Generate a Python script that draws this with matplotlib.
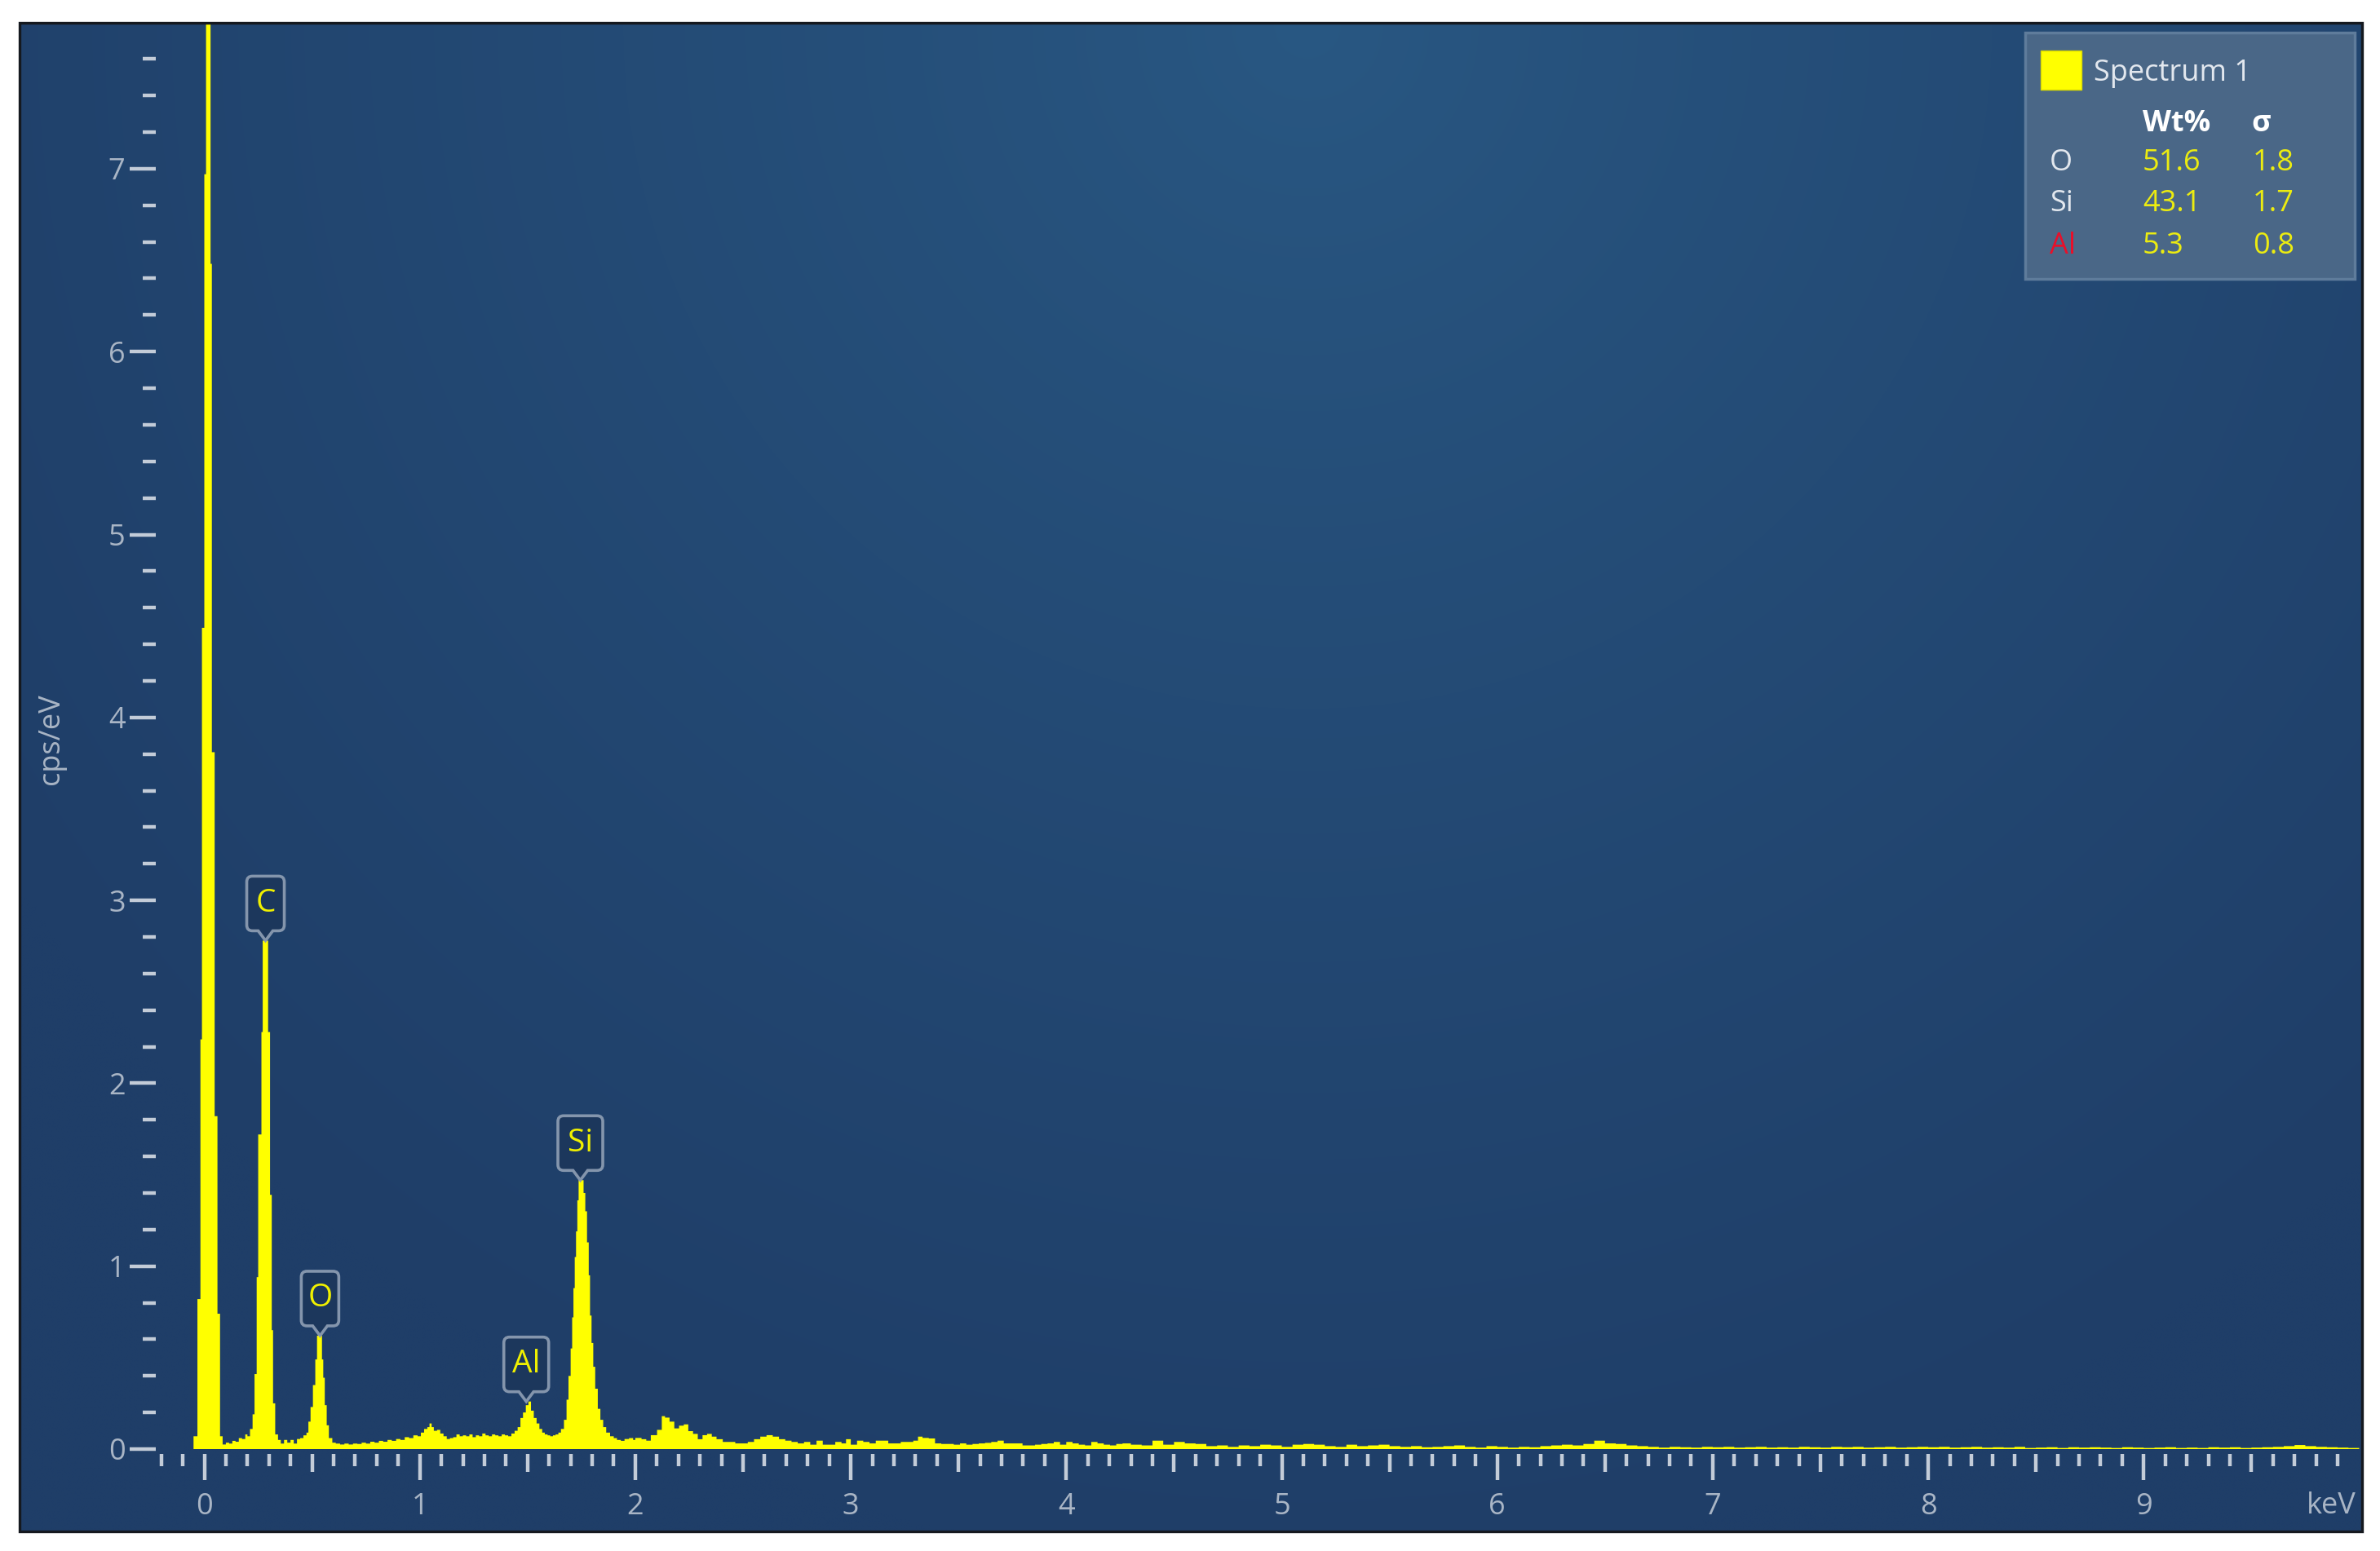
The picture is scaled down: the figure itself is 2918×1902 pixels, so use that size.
import numpy as np
import matplotlib
matplotlib.use("Agg")
import matplotlib.pyplot as plt
import matplotlib.transforms as mtransforms
from matplotlib.colors import to_rgb
from matplotlib.patches import Rectangle, PathPatch
from matplotlib.path import Path
from matplotlib.ticker import FixedLocator

# ---- EDS spectrum (bin start in keV, cps/eV) ----
# noise peak, C and O
kev_low = [-0.050, -0.032, -0.018, -0.011, 0.000, 0.008, 0.029, 0.035, 0.048, 0.061, 0.073,
           0.085, 0.100, 0.115, 0.130, 0.145, 0.160, 0.175, 0.190, 0.200,
           0.212, 0.224, 0.233, 0.243, 0.250, 0.265, 0.271, 0.296, 0.305, 0.313, 0.319, 0.329, 0.342,
           0.355, 0.370, 0.385, 0.400, 0.415, 0.430, 0.445, 0.460,
           0.474, 0.483, 0.493, 0.504, 0.515, 0.523, 0.546, 0.552, 0.559, 0.568, 0.578, 0.594]
cps_low = [0.07, 0.82, 2.24, 4.49, 6.97, 9.50, 6.48, 3.81, 1.82, 0.74, 0.07,
           0.025, 0.035, 0.030, 0.045, 0.040, 0.060, 0.055, 0.080, 0.070,
           0.11, 0.19, 0.41, 0.94, 1.72, 2.28, 2.78, 2.28, 1.39, 0.65, 0.25, 0.08, 0.05,
           0.030, 0.050, 0.035, 0.050, 0.030, 0.055, 0.060, 0.075,
           0.09, 0.15, 0.23, 0.35, 0.49, 0.62, 0.49, 0.39, 0.24, 0.13, 0.06, 0.035]

# background, Al and Si
kev_alsi = [0.610, 0.630, 0.650, 0.670, 0.690, 0.710, 0.730, 0.750, 0.770, 0.790,
            0.810, 0.830, 0.850, 0.870, 0.890, 0.910, 0.930, 0.950, 0.970, 0.990,
            1.005, 1.020, 1.035, 1.045, 1.055, 1.065, 1.080, 1.095, 1.110, 1.125,
            1.140, 1.155, 1.170, 1.185, 1.200, 1.215, 1.230, 1.245, 1.260, 1.275,
            1.290, 1.305, 1.320, 1.335, 1.350, 1.365, 1.380, 1.395, 1.410, 1.425,
            1.440, 1.454, 1.467, 1.479, 1.492, 1.504, 1.516, 1.529, 1.542, 1.555,
            1.568, 1.580, 1.593, 1.605, 1.618, 1.630, 1.643,
            1.655, 1.669, 1.681, 1.690, 1.700, 1.707, 1.713, 1.719, 1.725, 1.731, 1.737,
            1.760, 1.768, 1.776, 1.784, 1.790, 1.797, 1.805, 1.814, 1.826, 1.838,
            1.851, 1.865, 1.883, 1.900, 1.915, 1.933, 1.950, 1.971, 1.990]
cps_alsi = [0.030, 0.025, 0.030, 0.025, 0.030, 0.028, 0.035, 0.030, 0.040, 0.035,
            0.045, 0.040, 0.050, 0.045, 0.055, 0.050, 0.065, 0.060, 0.075, 0.070,
            0.090, 0.110, 0.120, 0.140, 0.120, 0.100, 0.105, 0.085, 0.070, 0.055,
            0.060, 0.065, 0.080, 0.070, 0.075, 0.070, 0.080, 0.065, 0.075, 0.070,
            0.085, 0.075, 0.070, 0.080, 0.075, 0.070, 0.080, 0.075, 0.070, 0.085,
            0.100, 0.120, 0.170, 0.200, 0.240, 0.260, 0.210, 0.170, 0.140, 0.110,
            0.090, 0.080, 0.075, 0.070, 0.075, 0.080, 0.090,
            0.110, 0.160, 0.270, 0.400, 0.550, 0.720, 0.880, 1.050, 1.190, 1.360, 1.470,
            1.400, 1.300, 1.130, 0.950, 0.730, 0.580, 0.450, 0.330, 0.220, 0.160,
            0.120, 0.090, 0.070, 0.060, 0.050, 0.045, 0.055, 0.060, 0.050]

# 2 - 4.3 keV background
kev_mid = [2.000, 2.029, 2.051, 2.072, 2.101, 2.123, 2.138, 2.159, 2.181, 2.203,
           2.225, 2.246, 2.268, 2.290, 2.312, 2.333, 2.355, 2.377, 2.406, 2.435,
           2.464, 2.493, 2.522, 2.551, 2.580, 2.609, 2.638, 2.667, 2.696, 2.725,
           2.754, 2.783, 2.812, 2.841, 2.870, 2.899, 2.928, 2.957, 2.978, 3.000,
           3.029, 3.058, 3.087, 3.116, 3.145, 3.174, 3.203, 3.232, 3.261, 3.290,
           3.312, 3.333, 3.362, 3.391, 3.420, 3.449, 3.478, 3.507, 3.536, 3.565,
           3.594, 3.623, 3.652, 3.681, 3.710, 3.739, 3.768, 3.797, 3.826, 3.855,
           3.884, 3.913, 3.942, 3.971, 4.000, 4.029, 4.058, 4.087, 4.116, 4.145,
           4.174, 4.203, 4.232, 4.261]
cps_mid = [0.061, 0.054, 0.046, 0.076, 0.105, 0.180, 0.172, 0.150, 0.113, 0.128,
           0.135, 0.098, 0.083, 0.054, 0.076, 0.083, 0.068, 0.054, 0.039, 0.039,
           0.031, 0.031, 0.039, 0.054, 0.068, 0.076, 0.068, 0.054, 0.046, 0.039,
           0.031, 0.039, 0.024, 0.046, 0.024, 0.024, 0.039, 0.031, 0.054, 0.024,
           0.046, 0.039, 0.031, 0.046, 0.046, 0.031, 0.031, 0.039, 0.039, 0.046,
           0.068, 0.061, 0.058, 0.031, 0.028, 0.028, 0.024, 0.031, 0.024, 0.028,
           0.031, 0.034, 0.039, 0.046, 0.031, 0.031, 0.031, 0.020, 0.020, 0.024,
           0.028, 0.031, 0.039, 0.024, 0.039, 0.031, 0.024, 0.020, 0.039, 0.031,
           0.024, 0.020, 0.028, 0.031]

# 4.3 - 10 keV, 0.05 keV channels
cps_high = [0.024, 0.020, 0.046, 0.024, 0.039, 0.031, 0.028, 0.016, 0.020, 0.012,
            0.020, 0.016, 0.024, 0.020, 0.012, 0.024, 0.028, 0.024, 0.016, 0.012,
            0.024, 0.016, 0.020, 0.024, 0.016, 0.012, 0.016, 0.010, 0.012, 0.016,
            0.020, 0.012, 0.008, 0.016, 0.012, 0.008, 0.012, 0.010, 0.016, 0.020,
            0.024, 0.020, 0.028, 0.046, 0.031, 0.028, 0.020, 0.016, 0.012, 0.008,
            0.012, 0.010, 0.008, 0.012, 0.010, 0.012, 0.008, 0.010, 0.012, 0.008,
            0.010, 0.008, 0.012, 0.010, 0.008, 0.012, 0.010, 0.012, 0.008, 0.010,
            0.012, 0.008, 0.010, 0.012, 0.010, 0.012, 0.008, 0.010, 0.012, 0.008,
            0.010, 0.008, 0.012, 0.006, 0.008, 0.010, 0.006, 0.010, 0.008, 0.010,
            0.008, 0.006, 0.010, 0.008, 0.006, 0.008, 0.010, 0.006, 0.008, 0.006,
            0.010, 0.008, 0.010, 0.006, 0.008, 0.010, 0.012, 0.016, 0.022, 0.016,
            0.012, 0.010, 0.008, 0.006, 0.006]
kev_high = list(np.round(4.30 + 0.05 * np.arange(len(cps_high)), 2))

peak_names = ["C", "O", "Al", "Si"]
peak_kev = [0.284, 0.537, 1.494, 1.745]

quant_elements = ["O", "Si", "Al"]
quant_wt = [51.6, 43.1, 5.3]
quant_sigma = [1.8, 1.7, 0.8]

# ---- layout (pixels of the 2918x1902 canvas) ----
W, H, DPI = 2918, 1902, 100
X0, KEV_PX = 250.5, 264.2      # pixel of 0 keV, pixels per keV
Y0, CPS_PX = 1777, 224.3       # pixel of 0 cps/eV, pixels per cps/eV
L, T, R, B = 24, 28, 2896, 1878

TICK_C = "#c3ccd8"
LABEL_C = "#a9b5c5"
YELLOW = "#ffff00"

plt.rcParams["font.family"] = ["Open Sans", "DejaVu Sans"]

fig = plt.figure(figsize=(W / DPI, H / DPI), dpi=DPI, facecolor="white")
ax = fig.add_axes([L / W, 1 - B / H, (R - L) / W, (B - T) / H])
xlim = ((L - X0) / KEV_PX, (R - X0) / KEV_PX)
ylim = (-(B - Y0) / CPS_PX, (Y0 - T) / CPS_PX)

# radial-ish gradient background
ny, nx = 300, 480
yy, xx = np.mgrid[0:1:ny * 1j, 0:1:nx * 1j]
d = np.hypot((xx - 0.55) * (R - L), (yy - 1.0) * (B - T)) / 1900.0
t = np.clip(d, 0, 1) ** 0.85
c0 = np.array(to_rgb("#295883"))
c1 = np.array(to_rgb("#1f3e68"))
img = c0 * (1 - t[..., None]) + c1 * t[..., None]
ax.imshow(img, extent=[0, 1, 0, 1], transform=ax.transAxes, origin="lower",
          aspect="auto", zorder=0, interpolation="bilinear")

# spectrum
kev = np.array(kev_low + kev_alsi + kev_mid + kev_high)
cps = np.array(cps_low + cps_alsi + cps_mid + cps_high)
ax.fill_between(kev, 0, cps, step="post", color=YELLOW, lw=0, zorder=3)

ax.set_xlim(*xlim)
ax.set_ylim(*ylim)
ax.set_autoscale_on(False)

# axes: ticks drawn inside the frame
for s in ax.spines.values():
    s.set_visible(False)
ax.spines["left"].set_position(("data", (191 - X0) / KEV_PX))
ax.spines["bottom"].set_position(("data", -(1783 - Y0) / CPS_PX))

ax.yaxis.set_major_locator(FixedLocator(list(range(8))))
ax.yaxis.set_minor_locator(FixedLocator([v / 10 for v in range(2, 77, 2) if v % 10]))
minor_x = [k / 10 for k in range(-2, 100) if k % 10]
ax.xaxis.set_major_locator(FixedLocator(list(range(10))))
ax.xaxis.set_minor_locator(FixedLocator(minor_x))

ax.tick_params(axis="y", which="major", direction="out", length=23, width=3.2,
               color=TICK_C, labelcolor=LABEL_C, labelsize=26, pad=4)
ax.tick_params(axis="y", which="minor", direction="out", length=11.5, width=3.2, color=TICK_C)
ax.tick_params(axis="x", which="major", direction="out", length=23, width=3.2,
               color=TICK_C, labelcolor=LABEL_C, labelsize=26, pad=11)
ax.tick_params(axis="x", which="minor", direction="out", length=10.8, width=3.2, color=TICK_C)
for tk, loc in zip(ax.xaxis.get_minor_ticks(len(minor_x)), minor_x):
    if abs(loc * 10) % 10 == 5:
        tk.tick1line.set_markersize(15.8)

ax.annotate("keV", xy=(9.87, ylim[0]), xycoords="data",
            xytext=(0, (B - 1847) * 72 / DPI), textcoords="offset points",
            ha="center", va="center", color=LABEL_C, fontsize=26)

# frame
ax.add_patch(Rectangle((0, 0), 1, 1, transform=ax.transAxes, fill=False,
                       ec="#15191f", lw=2.4, clip_on=False, zorder=10))


# peak tags
def peak_tag(x, y, label):
    w = 46 if len(label) == 1 else 55
    h, ph, pw, r = 67, 12, 9, 7
    verts = [(0, 0), (pw, ph), (w / 2 - r, ph), (w / 2, ph), (w / 2, ph + r),
             (w / 2, ph + h - r), (w / 2, ph + h), (w / 2 - r, ph + h),
             (-w / 2 + r, ph + h), (-w / 2, ph + h), (-w / 2, ph + h - r),
             (-w / 2, ph + r), (-w / 2, ph), (-w / 2 + r, ph), (-pw, ph), (0, 0)]
    codes = [Path.MOVETO, Path.LINETO, Path.LINETO, Path.CURVE3, Path.CURVE3,
             Path.LINETO, Path.CURVE3, Path.CURVE3, Path.LINETO, Path.CURVE3,
             Path.CURVE3, Path.LINETO, Path.CURVE3, Path.CURVE3, Path.LINETO,
             Path.CLOSEPOLY]
    tr = mtransforms.Affine2D() + mtransforms.ScaledTranslation(x, y, ax.transData)
    ax.add_patch(PathPatch(Path(verts, codes), transform=tr, fc="#1c375c",
                           ec="#8a9bb1", lw=2.6, alpha=0.95, zorder=6, clip_on=False))
    ax.text(0, ph + h / 2, label, transform=tr, ha="center", va="center",
            color="#f0f000", fontsize=28, zorder=7)


for name, e in zip(peak_names, peak_kev):
    near = (kev > e - 0.02) & (kev < e + 0.02)
    peak_tag(e, cps[near].max(), name)

# y label and legend box, in canvas pixels (y down)
tpx = mtransforms.Affine2D().scale(1, -1).translate(0, H)
fig.text(63, 906, "cps/eV", transform=tpx, rotation=90, ha="center", va="center",
         color=LABEL_C, fontsize=26)

fig.add_artist(Rectangle((2483, 40), 404, 302, transform=tpx, fc="#4a6787",
                         ec="#5f7c9b", lw=2.5, zorder=20))
fig.add_artist(Rectangle((2502, 62), 50, 48, transform=tpx, fc=YELLOW,
                         ec="#d8d800", lw=1, zorder=21))
fig.text(2567, 90, "Spectrum 1", transform=tpx, ha="left", va="center",
         color="#e2e7ee", fontsize=26, zorder=22)
fig.text(2627, 152, "Wt%", transform=tpx, ha="left", va="center",
         color="white", fontsize=26, fontweight="bold", zorder=22)
fig.text(2760, 152, "σ", transform=tpx, ha="left", va="center",
         color="white", fontsize=26, fontweight="bold", zorder=22)
row_y = [200, 250, 302]
for yp, el, wt, sg in zip(row_y, quant_elements, quant_wt, quant_sigma):
    fig.text(2513, yp, el, transform=tpx, ha="left", va="center",
             color="#e8102a" if el == "Al" else "#e2e7ee", fontsize=26, zorder=22)
    fig.text(2627, yp, f"{wt:.1f}", transform=tpx, ha="left", va="center",
             color="#ecec10", fontsize=26, zorder=22)
    fig.text(2762, yp, f"{sg:.1f}", transform=tpx, ha="left", va="center",
             color="#ecec10", fontsize=26, zorder=22)

fig.savefig("out.png", dpi=DPI, facecolor="white")
